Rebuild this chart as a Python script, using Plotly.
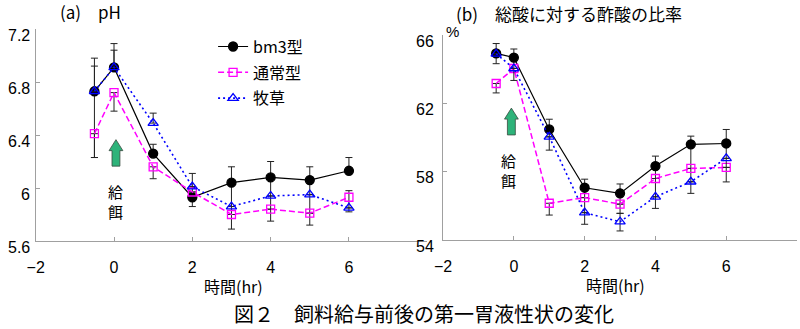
import plotly.graph_objects as go

# ---------------- data ----------------
hours = [-0.5, 0, 1, 2, 3, 4, 5, 6]
series_names = ["bm3型", "通常型", "牧草"]

# (a) pH
ph_bm3 = [6.73, 6.91, 6.26, 5.93, 6.04, 6.08, 6.06, 6.13]
ph_normal = [6.41, 6.72, 6.16, 5.97, 5.80, 5.84, 5.81, 5.93]
ph_grass = [6.73, 6.91, 6.49, 6.01, 5.86, 5.94, 5.95, 5.85]
ph_bm3_up = [0.25, 0.18, 0.07, 0.08, 0.12, 0.12, 0.10, 0.10]
ph_bm3_dn = [0.50, 0.00, 0.00, 0.07, 0.24, 0.24, 0.25, 0.00]
ph_normal_up = [0.00, 0.00, 0.00, 0.00, 0.00, 0.00, 0.00, 0.05]
ph_normal_dn = [0.18, 0.14, 0.09, 0.00, 0.11, 0.09, 0.09, 0.08]
ph_grass_up = [0.19, 0.13, 0.075, 0.10, 0.00, 0.00, 0.00, 0.00]
ph_grass_dn = [0.00, 0.00, 0.00, 0.00, 0.00, 0.00, 0.00, 0.03]

# (b) acetate ratio (%)
ac_bm3 = [64.92, 64.68, 60.47, 57.06, 56.73, 58.33, 59.60, 59.65]
ac_normal = [63.16, 64.04, 56.15, 56.48, 56.10, 57.60, 58.19, 58.25]
ac_grass = [64.90, 64.04, 60.04, 55.60, 55.07, 56.53, 57.41, 58.78]
ac_bm3_up = [0.58, 0.50, 0.60, 0.50, 0.55, 0.58, 0.48, 0.82]
ac_bm3_dn = [0.60, 0.64, 0.43, 0.58, 0.63, 0.73, 1.41, 0.87]
ac_normal_up = [0.00, 0.00, 0.00, 0.00, 0.00, 0.00, 0.00, 0.00]
ac_normal_dn = [0.55, 0.00, 0.69, 0.88, 0.54, 1.07, 0.78, 0.85]
ac_grass_up = [0.00, 0.00, 0.00, 0.00, 0.49, 0.00, 0.00, 0.00]
ac_grass_dn = [0.00, 0.70, 0.78, 0.68, 0.54, 0.68, 0.68, 0.53]

ph_ticks = [5.6, 6.0, 6.4, 6.8, 7.2]
ph_ticklabels = ["5.6", "6", "6.4", "6.8", "7.2"]
ac_ticks = [54, 58, 62, 66]
ac_ticklabels = ["54", "58", "62", "66"]
x_ticks = [-2, 0, 2, 4, 6]
x_ticklabels = ["−2", "0", "2", "4", "6"]

x_range = [-2, 8]
ph_range = [5.6, 7.2]
ac_range = [54, 66]

title_a = "(a)　pH"
title_b = "(b)　総酸に対する酢酸の比率"
x_title = "時間(hr)"
caption = "図２　飼料給与前後の第一胃液性状の変化"
feed_chars = ["給", "餌"]

# ---------------- layout constants ----------------
W, H = 800, 329
NUM_FONT = "Liberation Sans, Arial, Noto Sans CJK JP"
JP_FONT = "Noto Sans CJK JP, Noto Sans, sans-serif"

dom_a_x = [27 / W, 423 / W]
dom_a_y = [88 / H, 300 / H]
dom_b_x = [439 / W, 797 / W]
dom_b_y = [89 / H, 294 / H]

styles = [
    dict(color="black", dash="solid", width=1.2, symbol="circle", size=9),
    dict(color="#FF00FF", dash="6px,3px", width=1.5, symbol="square-open", size=8),
    dict(color="#0000FF", dash="2px,3px", width=1.6, symbol="triangle-up-open", size=9),
]

fig = go.Figure()

def add_series(xa, ya, vals, up, dn, st, name, showlegend):
    fig.add_trace(go.Scatter(
        x=hours, y=vals, name=name, mode="lines+markers",
        xaxis=xa, yaxis=ya, showlegend=showlegend, legendgroup=name,
        line=dict(color=st["color"], dash=st["dash"], width=st["width"]),
        marker=dict(symbol=st["symbol"], size=st["size"],
                    color=st["color"], line=dict(color=st["color"], width=1.3)),
        error_y=dict(type="data", symmetric=False, array=up, arrayminus=dn,
                     color="#222222", thickness=1, width=3.5),
    ))

ph_sets = [(ph_bm3, ph_bm3_up, ph_bm3_dn), (ph_normal, ph_normal_up, ph_normal_dn),
           (ph_grass, ph_grass_up, ph_grass_dn)]
ac_sets = [(ac_bm3, ac_bm3_up, ac_bm3_dn), (ac_normal, ac_normal_up, ac_normal_dn),
           (ac_grass, ac_grass_up, ac_grass_dn)]

for (v, u, d), st, nm in zip(ph_sets, styles, series_names):
    add_series("x", "y", v, u, d, st, nm, True)
for (v, u, d), st, nm in zip(ac_sets, styles, series_names):
    add_series("x2", "y2", v, u, d, st, nm, False)

axis_common = dict(showline=True, linecolor="#a0a0a0", linewidth=1, ticks="inside",
                   tickcolor="#a0a0a0", ticklen=4, showgrid=False, zeroline=False,
                   fixedrange=True)

fig.update_layout(
    width=W, height=H, margin=dict(l=0, r=0, t=0, b=0),
    paper_bgcolor="white", plot_bgcolor="white",
    xaxis=dict(domain=dom_a_x, range=x_range, anchor="y", tickvals=x_ticks,
               ticktext=x_ticklabels, ticklabelstandoff=12,
               tickfont=dict(family=NUM_FONT, size=16, color="black"), **axis_common),
    yaxis=dict(domain=dom_a_y, range=ph_range, anchor="x", tickvals=ph_ticks,
               showticklabels=False, **axis_common),
    xaxis2=dict(domain=dom_b_x, range=x_range, anchor="y2", tickvals=x_ticks,
                ticktext=x_ticklabels, ticklabelstandoff=12,
                tickfont=dict(family=NUM_FONT, size=16, color="black"), **axis_common),
    yaxis2=dict(domain=dom_b_y, range=ac_range, anchor="x2", tickvals=ac_ticks,
                showticklabels=False, **axis_common),
    legend=dict(x=0.258, y=0.91, xanchor="left", yanchor="top",
                font=dict(family=JP_FONT, size=16, color="black"),
                bgcolor="rgba(0,0,0,0)", tracegroupgap=2, itemwidth=30),
    showlegend=True,
)

ann = []
# y tick labels (placed slightly below each tick like the original)
for v, t in zip(ph_ticks, ph_ticklabels):
    ann.append(dict(x=23 / W, xref="paper", y=v, yref="y", text=t, showarrow=False,
                    xanchor="right", yanchor="middle", yshift=-6,
                    font=dict(family=NUM_FONT, size=16, color="black")))
for v, t in zip(ac_ticks, ac_ticklabels):
    ann.append(dict(x=432 / W, xref="paper", y=v, yref="y2", text=t, showarrow=False,
                    xanchor="right", yanchor="middle", yshift=-6,
                    font=dict(family=NUM_FONT, size=16, color="black")))

ann += [
    dict(x=50 / W, y=1 - 11 / H, xref="paper", yref="paper", text=title_a, showarrow=False,
         xanchor="left", yanchor="middle", font=dict(family=JP_FONT, size=17, color="black")),
    dict(x=450 / W, y=1 - 14 / H, xref="paper", yref="paper", text=title_b, showarrow=False,
         xanchor="left", yanchor="middle", font=dict(family=JP_FONT, size=17, color="black")),
    dict(x=440 / W, y=1 - 31 / H, xref="paper", yref="paper", text="%", showarrow=False,
         xanchor="left", yanchor="middle", font=dict(family=NUM_FONT, size=15, color="black")),
    dict(x=227 / W, y=1 - 286 / H, xref="paper", yref="paper", text=x_title, showarrow=False,
         xanchor="center", yanchor="middle", font=dict(family=JP_FONT, size=16, color="black")),
    dict(x=613 / W, y=1 - 285 / H, xref="paper", yref="paper", text=x_title, showarrow=False,
         xanchor="center", yanchor="middle", font=dict(family=JP_FONT, size=16, color="black")),
    dict(x=420 / W, y=0, xref="paper", yref="paper", text=caption, showarrow=False,
         xanchor="center", yanchor="bottom", borderpad=0,
         font=dict(family=JP_FONT, size=20, color="black")),
]
# "給餌" vertical labels, one character per line
for (xr, yr, cx, cy) in [("x", "y", 0.05, 5.90), ("x2", "y2", -0.16, 58.05)]:
    for i, ch in enumerate(feed_chars):
        ann.append(dict(x=cx, y=cy, xref=xr, yref=yr, text=ch, showarrow=False,
                        xanchor="center", yanchor="middle", yshift=10 - 20 * i, borderpad=0,
                        font=dict(family=JP_FONT, size=15, color="black")))
fig.update_layout(annotations=ann)

# green "feeding" arrows drawn as path shapes
def arrow_path(cx, tip, base, xr, yr, dom_x, dom_y):
    pxx = (dom_x[1] - dom_x[0]) * W / (xr[1] - xr[0])   # px per x unit
    pxy = (dom_y[1] - dom_y[0]) * H / (yr[1] - yr[0])   # px per y unit
    hw = 7 / pxx     # half head width
    sw = 4 / pxx     # half shaft width
    hh = 11 / pxy    # head height
    neck = tip - hh
    pts = [(cx, tip), (cx + hw, neck), (cx + sw, neck), (cx + sw, base),
           (cx - sw, base), (cx - sw, neck), (cx - hw, neck)]
    return "M " + " L ".join(f"{x:.4f},{y:.4f}" for x, y in pts) + " Z"

shapes = [
    dict(type="path", xref="x", yref="y",
         path=arrow_path(0.05, 6.365, 6.165, x_range, ph_range, dom_a_x, dom_a_y),
         fillcolor="#2EB37A", line=dict(color="#3a4a40", width=0.8)),
    dict(type="path", xref="x2", yref="y2",
         path=arrow_path(-0.07, 61.72, 60.15, x_range, ac_range, dom_b_x, dom_b_y),
         fillcolor="#2EB37A", line=dict(color="#3a4a40", width=0.8)),
]
fig.update_layout(shapes=shapes)

fig.write_html("out.html")
